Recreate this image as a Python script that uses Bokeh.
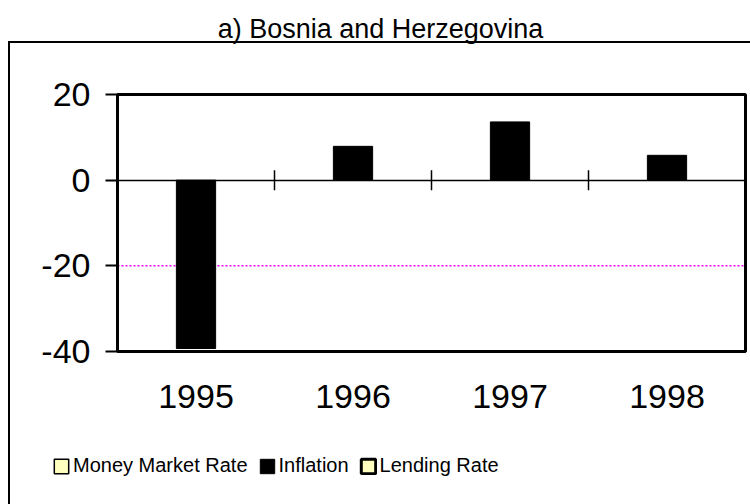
import math
import numpy as np
from bokeh.plotting import figure
from bokeh.models import (Range1d, FixedTicker, LinearAxis, Legend, LegendItem,
                          ColumnDataSource, Title, BoxAnnotation)
from bokeh.transform import dodge
from bokeh.embed import file_html
from bokeh.resources import INLINE

# ---- data ----
years = ["1995", "1996", "1997", "1998"]
money_market_rate = [np.nan, np.nan, np.nan, np.nan]
inflation = [-39.3, 7.9, 13.6, 5.8]
lending_rate = [np.nan, np.nan, np.nan, np.nan]
y_ticks = [-40, -20, 0, 20]
y_min, y_max = -40, 20
title_text = "a) Bosnia and Herzegovina"
reference_level = -20

FONT = "Liberation Sans"
n = len(years)

# ---- layout (pixels) ----
W, H = 750, 504
FRAME_L, FRAME_T = 10, 43          # inside of the outer chart box
PLOT_L, PLOT_R, PLOT_T, PLOT_B = 117, 745, 94, 351   # inner plot area
ppx = (PLOT_R - PLOT_L) / n
ppy = (PLOT_B - PLOT_T) / (y_max - y_min)
x_range = Range1d(-(PLOT_L - FRAME_L) / ppx, n + (W - PLOT_R) / ppx)
y_range = Range1d(y_min - (H - PLOT_B) / ppy, y_max + (PLOT_T - FRAME_T) / ppy)

xpos = [i + 0.5 for i in range(n)]
source = ColumnDataSource(dict(x=xpos, year=years, mm=money_market_rate,
                               inf=inflation, lend=lending_rate))

p = figure(width=W, height=H, output_backend="svg", toolbar_location=None,
           x_range=x_range, y_range=y_range,
           x_axis_location=None, y_axis_location=None,
           min_border_left=FRAME_L, min_border_right=0, min_border_top=FRAME_T,
           min_border_bottom=0)
p.background_fill_color = "white"
p.border_fill_color = None
p.outline_line_color = None
p.grid.visible = False
# outer chart-area box (left and top edges visible in the window)
p.styles = {
    "background": "linear-gradient(#000,#000) 8px 41px / 742px 2px no-repeat, "
                  "linear-gradient(#000,#000) 8px 41px / 2px 463px no-repeat, #ffffff"
}

p.title = Title(text=title_text, align="center", vertical_align="bottom",
                standoff=0, text_font=FONT, text_font_size="27px",
                text_font_style="normal", text_color="black")

# reference dotted line
p.line(x=[0, n], y=[reference_level, reference_level], line_color="#FF00FF",
       line_dash="2 2", line_width=1.5, level="underlay")

bw = 0.25
r_mm = p.vbar(x=dodge("x", -bw, range=p.x_range), top="mm", width=bw, source=source,
              fill_color="#FFFFC0", line_color="black", line_width=1.5)
r_inf = p.vbar(x=dodge("x", 0, range=p.x_range), top="inf", width=bw, source=source,
               fill_color="black", line_color="black", line_width=1)
r_lend = p.vbar(x=dodge("x", bw, range=p.x_range), top="lend", width=bw, source=source,
                fill_color="#FFFFC0", line_color="black", line_width=3)

# inner plot border
p.add_layout(BoxAnnotation(left=0, right=n, bottom=y_min, top=y_max,
                           fill_color=None, fill_alpha=0, line_color="black",
                           line_alpha=1.0, line_width=3))

# y axis at the left edge of the plot area
ya = LinearAxis(fixed_location=0, bounds=(y_min, y_max),
                ticker=FixedTicker(ticks=y_ticks))
ya.major_label_overrides = {t: str(t) for t in y_ticks}
ya.axis_line_color = None
ya.major_tick_in = 0
ya.major_tick_out = 12
ya.major_tick_line_width = 2
ya.minor_tick_line_color = None
ya.major_label_standoff = 15
ya.major_label_text_font = FONT
ya.major_label_text_font_size = "34px"
ya.major_label_text_color = "black"
p.add_layout(ya, "left")

# category labels below the plot area
xa = LinearAxis(fixed_location=y_min, bounds=(0, n), ticker=FixedTicker(ticks=xpos))
xa.major_label_overrides = {x: y for x, y in zip(xpos, years)}
xa.axis_line_color = None
xa.major_tick_line_color = None
xa.major_tick_in = 0
xa.major_tick_out = 0
xa.minor_tick_line_color = None
xa.major_label_standoff = 33
xa.major_label_text_font = FONT
xa.major_label_text_font_size = "34px"
xa.major_label_text_color = "black"
p.add_layout(xa, "below")

# zero line (category axis crossing at 0)
za = LinearAxis(fixed_location=0, bounds=(0, n), ticker=FixedTicker(ticks=[]))
za.axis_line_width = 1.5
za.axis_line_color = "black"
za.major_tick_line_color = None
za.minor_tick_line_color = None
p.add_layout(za, "below")
# tick marks between categories on the zero line
p.scatter(x=list(range(1, n)), y=[0] * (n - 1), marker="dash", angle=math.pi / 2,
          size=20, line_color="black", line_width=1.5)

legend = Legend(items=[LegendItem(label="Money Market Rate", renderers=[r_mm]),
                       LegendItem(label="Inflation", renderers=[r_inf]),
                       LegendItem(label="Lending Rate", renderers=[r_lend])],
                orientation="horizontal", location=(42, 27),
                glyph_width=18, glyph_height=18, label_standoff=3, spacing=10,
                padding=0, margin=0, border_line_color=None, background_fill_alpha=0,
                label_text_font=FONT, label_text_font_size="20px", label_text_color="black")
p.add_layout(legend, "center")

open("out.html", "w").write(file_html(p, INLINE))
